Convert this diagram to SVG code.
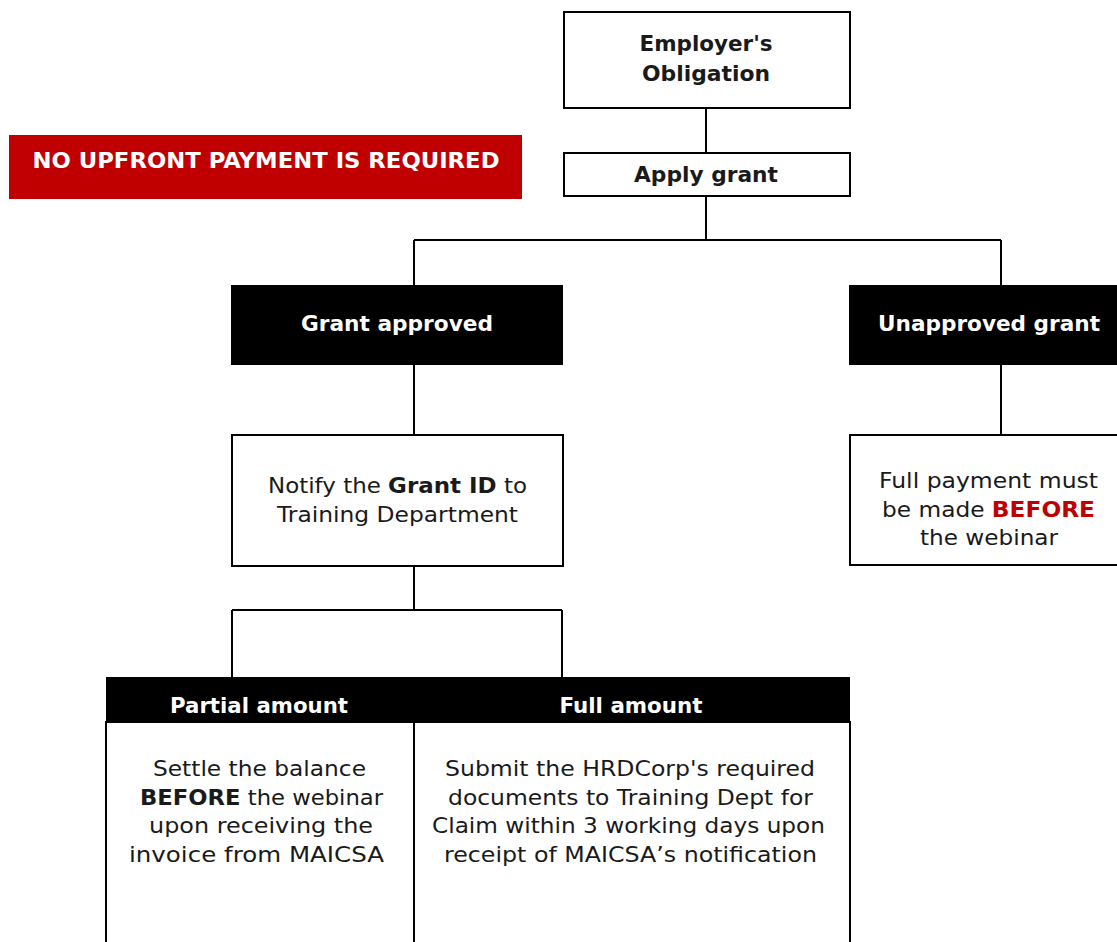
<svg xmlns="http://www.w3.org/2000/svg" width="1117" height="942" viewBox="0 0 1117 942">
<style>
text{font-family:"DejaVu Sans","Open Sans","Liberation Sans",sans-serif;text-anchor:middle;fill:#1a1a1a;font-size:20.5px}
.b{font-weight:bold;font-size:21px}
.w{fill:#ffffff;font-weight:bold;font-size:21px}
.bb{font-weight:bold}
.box{fill:#ffffff;stroke:#000000;stroke-width:2}
.blk{fill:#000000}
.ln{stroke:#000000;stroke-width:2;fill:none}
.red{fill:#c00000}
</style>
<rect width="1117" height="942" fill="#ffffff"/>
<g id="connectors">
<path class="ln" d="M706 108V153M706 196V240M414 240H1001M414 240V285M1001 240V285M414 365V435M1001 365V435M414 566V610M232 610H562M232 610V677M562 610V677"/>
</g>
<g id="banner">
<rect x="9" y="135" width="513" height="64" class="red"/>
<text x="266" y="167.5" class="w" textLength="467" lengthAdjust="spacingAndGlyphs">NO UPFRONT PAYMENT IS REQUIRED</text>
</g>
<g id="employer">
<rect x="564" y="12" width="286" height="96" class="box"/>
<text x="706" y="51" class="b" textLength="133" lengthAdjust="spacingAndGlyphs">Employer's</text>
<text x="706" y="81" class="b" textLength="128" lengthAdjust="spacingAndGlyphs">Obligation</text>
</g>
<g id="apply">
<rect x="564" y="153" width="286" height="43" class="box"/>
<text x="706" y="182" class="b" textLength="144" lengthAdjust="spacingAndGlyphs">Apply grant</text>
</g>
<g id="approved">
<rect x="231" y="285" width="332" height="80" class="blk"/>
<text x="397" y="331" class="w" textLength="192" lengthAdjust="spacingAndGlyphs">Grant approved</text>
</g>
<g id="unapproved">
<rect x="849" y="285" width="268" height="80" class="blk"/>
<text x="989" y="331" class="w" textLength="222" lengthAdjust="spacingAndGlyphs">Unapproved grant</text>
</g>
<g id="notify">
<rect x="232" y="435" width="331" height="131" class="box"/>
<text x="397.5" y="493" textLength="259" lengthAdjust="spacingAndGlyphs">Notify the <tspan class="bb">Grant ID</tspan> to</text>
<text x="397.5" y="522" textLength="241" lengthAdjust="spacingAndGlyphs">Training Department</text>
</g>
<g id="fullpayment">
<rect x="850" y="435" width="270" height="130" class="box"/>
<text x="988.5" y="488" textLength="219" lengthAdjust="spacingAndGlyphs">Full payment must</text>
<text x="988.5" y="517" textLength="213" lengthAdjust="spacingAndGlyphs">be made <tspan class="bb" fill="#c00000">BEFORE</tspan></text>
<text x="989" y="545" textLength="138" lengthAdjust="spacingAndGlyphs">the webinar</text>
</g>
<g id="partial">
<rect x="106" y="677" width="308" height="45" class="blk"/>
<rect x="106" y="722" width="308" height="230" class="box"/>
<text x="259" y="713" class="w" textLength="178" lengthAdjust="spacingAndGlyphs">Partial amount</text>
<text x="259.5" y="776" textLength="213" lengthAdjust="spacingAndGlyphs">Settle the balance</text>
<text x="261.5" y="805" textLength="243" lengthAdjust="spacingAndGlyphs"><tspan class="bb">BEFORE</tspan> the webinar</text>
<text x="261" y="833" textLength="224" lengthAdjust="spacingAndGlyphs">upon receiving the</text>
<text x="256.5" y="862" textLength="255" lengthAdjust="spacingAndGlyphs">invoice from MAICSA</text>
</g>
<g id="full">
<rect x="414" y="677" width="436" height="45" class="blk"/>
<rect x="414" y="722" width="436" height="230" class="box"/>
<text x="631" y="713" class="w" textLength="143" lengthAdjust="spacingAndGlyphs">Full amount</text>
<text x="630" y="776" textLength="370" lengthAdjust="spacingAndGlyphs">Submit the HRDCorp's required</text>
<text x="630.5" y="805" textLength="365" lengthAdjust="spacingAndGlyphs">documents to Training Dept for</text>
<text x="628.5" y="833" textLength="393" lengthAdjust="spacingAndGlyphs">Claim within 3 working days upon</text>
<text x="630.5" y="862" textLength="373" lengthAdjust="spacingAndGlyphs">receipt of MAICSA’s notification</text>
</g>
</svg>
